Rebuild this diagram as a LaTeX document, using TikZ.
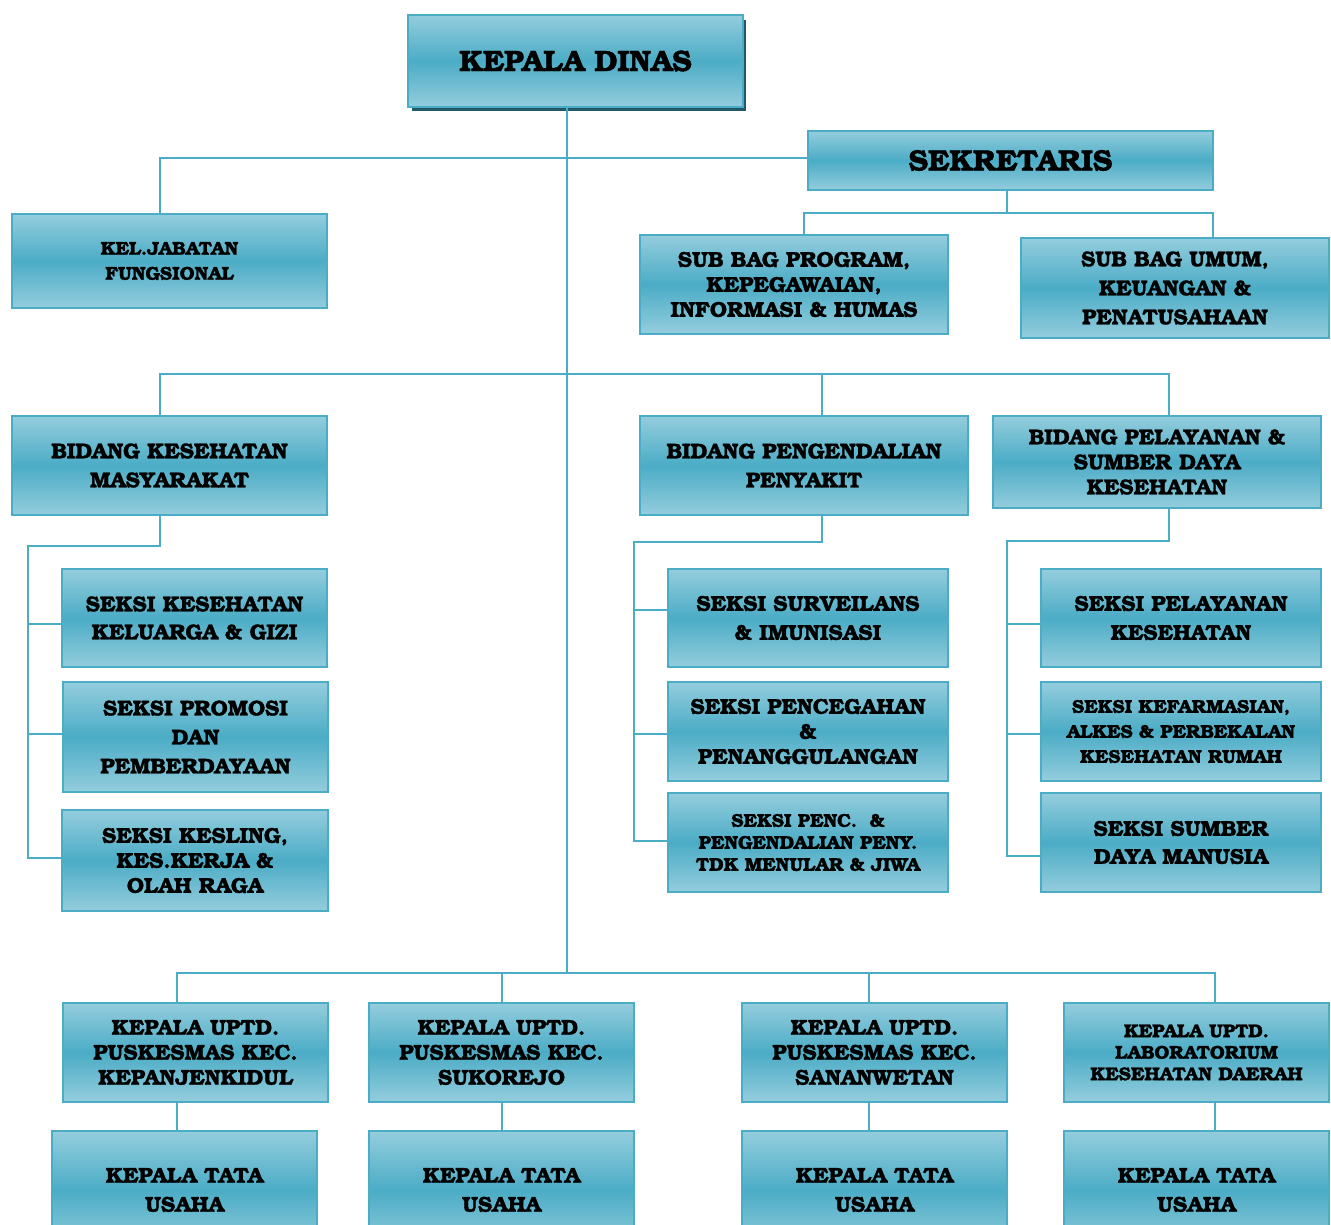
\documentclass[tikz,border=0pt]{standalone}
\usepackage{fontspec}
\setmainfont{TeX Gyre Bonum}[BoldFeatures={FakeBold=1.3}]
\definecolor{boxlight}{HTML}{94CDDD}
\definecolor{boxmid}{HTML}{4BACC6}
\definecolor{bord}{HTML}{4BACC6}
\definecolor{lnc}{HTML}{4BACC6}
\definecolor{shad}{HTML}{215967}
\newcommand\myfs[2]{\fontsize{#1}{#2}\selectfont}
\tikzset{
  headbox/.style={draw=bord, line width=2.5pt, top color=boxlight, bottom color=boxlight, middle color=boxmid, inner sep=2pt, align=center},
  box/.style={headbox, execute at begin node={\rule{0pt}{0.9em}}},
  ln/.style={draw=lnc, line width=2.6pt},
}
\begin{document}
\begin{tikzpicture}[x=1pt,y=-1pt]
\useasboundingbox (0,0) rectangle (1331,1224);
\clip (0,0) rectangle (1331,1224);
% shadow of head box
\fill[shad] (412,20) rectangle (746,111);
\node[headbox, minimum width=335pt, minimum height=92pt, font=\bfseries\myfs{29.5}{33}] (kd) at (575.5,61) {KEPALA DINAS};
\node[headbox, minimum width=405pt, minimum height=59pt, font=\bfseries\myfs{29.5}{33}] (sek) at (1010.5,160.5) {SEKRETARIS};
\node[box, minimum width=315pt, minimum height=94pt, font=\bfseries\myfs{18.6}{25}] (kjf) at (169.5,261) {KEL.JABATAN\\FUNGSIONAL};
\node[box, minimum width=308pt, minimum height=99pt, font=\bfseries\myfs{21.5}{25}] (sb1) at (794,284.5) {SUB BAG PROGRAM,\\KEPEGAWAIAN,\\INFORMASI \& HUMAS};
\node[box, minimum width=308pt, minimum height=100pt, font=\bfseries\myfs{21.5}{29}] (sb2) at (1175,288) {SUB BAG UMUM,\\KEUANGAN \&\\PENATUSAHAAN};
\node[box, minimum width=315pt, minimum height=99pt, font=\bfseries\myfs{21.5}{29}] (bkm) at (169.5,465.5) {BIDANG KESEHATAN\\MASYARAKAT};
\node[box, minimum width=328pt, minimum height=99pt, font=\bfseries\myfs{21.5}{29}] (bpp) at (804,465.5) {BIDANG PENGENDALIAN\\PENYAKIT};
\node[box, minimum width=328pt, minimum height=92pt, font=\bfseries\myfs{21.5}{25}] (bpl) at (1157,462) {BIDANG PELAYANAN \&\\SUMBER DAYA\\KESEHATAN};
\node[box, minimum width=265pt, minimum height=98pt, font=\bfseries\myfs{21.5}{28}] (sk1) at (194.5,618) {SEKSI KESEHATAN\\KELUARGA \& GIZI};
\node[box, minimum width=265pt, minimum height=110pt, font=\bfseries\myfs{21.5}{29}] (sk2) at (195.5,737) {SEKSI PROMOSI\\DAN\\PEMBERDAYAAN};
\node[box, minimum width=266pt, minimum height=101pt, font=\bfseries\myfs{21.5}{25}] (sk3) at (195,860.5) {SEKSI KESLING,\\KES.KERJA \&\\OLAH RAGA};
\node[box, minimum width=280pt, minimum height=98pt, font=\bfseries\myfs{21.5}{29}] (sp1) at (808,618) {SEKSI SURVEILANS\\\& IMUNISASI};
\node[box, minimum width=280pt, minimum height=99pt, font=\bfseries\myfs{21.5}{25}] (sp2) at (808,731.5) {SEKSI PENCEGAHAN\\\&\\PENANGGULANGAN};
\node[box, minimum width=280pt, minimum height=99pt, font=\bfseries\myfs{18.6}{22}] (sp3) at (808,842.5) {SEKSI PENC.\ \ \&\\PENGENDALIAN PENY.\\TDK MENULAR \& JIWA};
\node[box, minimum width=280pt, minimum height=98pt, font=\bfseries\myfs{21.5}{29}] (ss1) at (1181,618) {SEKSI PELAYANAN\\KESEHATAN};
\node[box, minimum width=280pt, minimum height=99pt, font=\bfseries\myfs{18.6}{25}] (ss2) at (1181,731.5) {SEKSI KEFARMASIAN,\\ALKES \& PERBEKALAN\\KESEHATAN RUMAH};
\node[box, minimum width=280pt, minimum height=99pt, font=\bfseries\myfs{21.5}{28}] (ss3) at (1181,842.5) {SEKSI SUMBER\\DAYA MANUSIA};
\node[box, minimum width=265pt, minimum height=99pt, font=\bfseries\myfs{21.5}{25}] (u1) at (195.5,1052.5) {KEPALA UPTD.\\PUSKESMAS KEC.\\KEPANJENKIDUL};
\node[box, minimum width=265pt, minimum height=99pt, font=\bfseries\myfs{21.5}{25}] (u2) at (501.5,1052.5) {KEPALA UPTD.\\PUSKESMAS KEC.\\SUKOREJO};
\node[box, minimum width=265pt, minimum height=99pt, font=\bfseries\myfs{21.5}{25}] (u3) at (874.5,1052.5) {KEPALA UPTD.\\PUSKESMAS KEC.\\SANANWETAN};
\node[box, minimum width=265pt, minimum height=99pt, font=\bfseries\myfs{18.6}{21.5}] (u4) at (1196.5,1052.5) {KEPALA UPTD.\\LABORATORIUM\\KESEHATAN DAERAH};
\node[box, minimum width=265pt, minimum height=118pt, font=\bfseries\myfs{21.5}{29}] (t1) at (184.5,1190) {KEPALA TATA\\USAHA};
\node[box, minimum width=265pt, minimum height=118pt, font=\bfseries\myfs{21.5}{29}] (t2) at (501.5,1190) {KEPALA TATA\\USAHA};
\node[box, minimum width=265pt, minimum height=118pt, font=\bfseries\myfs{21.5}{29}] (t3) at (874.5,1190) {KEPALA TATA\\USAHA};
\node[box, minimum width=265pt, minimum height=118pt, font=\bfseries\myfs{21.5}{29}] (t4) at (1196.5,1190) {KEPALA TATA\\USAHA};
% junction coordinates
\coordinate (vx) at (567,973);
\coordinate (j1) at (160,158);
\coordinate (s1) at (1007,213);
\coordinate (sL) at (804,213);
\coordinate (sR) at (1213,213);
\coordinate (jL) at (160,374);
\coordinate (jM) at (822,374);
\coordinate (jR) at (1169,374);
\coordinate (kA) at (160,546);
\coordinate (kB) at (28,546);
\coordinate (k1) at (28,624);
\coordinate (k2) at (28,734);
\coordinate (k3) at (28,858);
\coordinate (pA) at (822,542);
\coordinate (pB) at (634,542);
\coordinate (p1) at (634,610);
\coordinate (p2) at (634,734);
\coordinate (p3) at (634,841);
\coordinate (qA) at (1169,541);
\coordinate (qB) at (1007,541);
\coordinate (q1) at (1007,624);
\coordinate (q2) at (1007,734);
\coordinate (q3) at (1007,856);
\coordinate (bL) at (177,973);
\coordinate (b2) at (502,973);
\coordinate (b3) at (869,973);
\coordinate (bR) at (1215,973);
% connectors
\draw[ln] (kd.south -| vx) -- (vx);
\draw[ln] (sek.west |- j1) -- (j1) -- (j1 |- kjf.north);
\draw[ln] (sek.south -| s1) -- (s1);
\draw[ln] (sL |- sb1.north) -- (sL) -- (sR) -- (sR |- sb2.north);
\draw[ln] (jL |- bkm.north) -- (jL) -- (jR) -- (jR |- bpl.north);
\draw[ln] (jM) -- (jM |- bpp.north);
\draw[ln] (kA |- bkm.south) -- (kA) -- (kB) -- (k3) -- (k3 -| sk3.west);
\draw[ln] (k1) -- (k1 -| sk1.west);
\draw[ln] (k2) -- (k2 -| sk2.west);
\draw[ln] (pA |- bpp.south) -- (pA) -- (pB) -- (p3) -- (p3 -| sp3.west);
\draw[ln] (p1) -- (p1 -| sp1.west);
\draw[ln] (p2) -- (p2 -| sp2.west);
\draw[ln] (qA |- bpl.south) -- (qA) -- (qB) -- (q3) -- (q3 -| ss3.west);
\draw[ln] (q1) -- (q1 -| ss1.west);
\draw[ln] (q2) -- (q2 -| ss2.west);
\draw[ln] (bL |- u1.north) -- (bL) -- (bR) -- (bR |- u4.north);
\draw[ln] (b2) -- (b2 |- u2.north);
\draw[ln] (b3) -- (b3 |- u3.north);
\draw[ln] (bL |- u1.south) -- (bL |- t1.north);
\draw[ln] (b2 |- u2.south) -- (b2 |- t2.north);
\draw[ln] (b3 |- u3.south) -- (b3 |- t3.north);
\draw[ln] (bR |- u4.south) -- (bR |- t4.north);
\end{tikzpicture}
\end{document}
